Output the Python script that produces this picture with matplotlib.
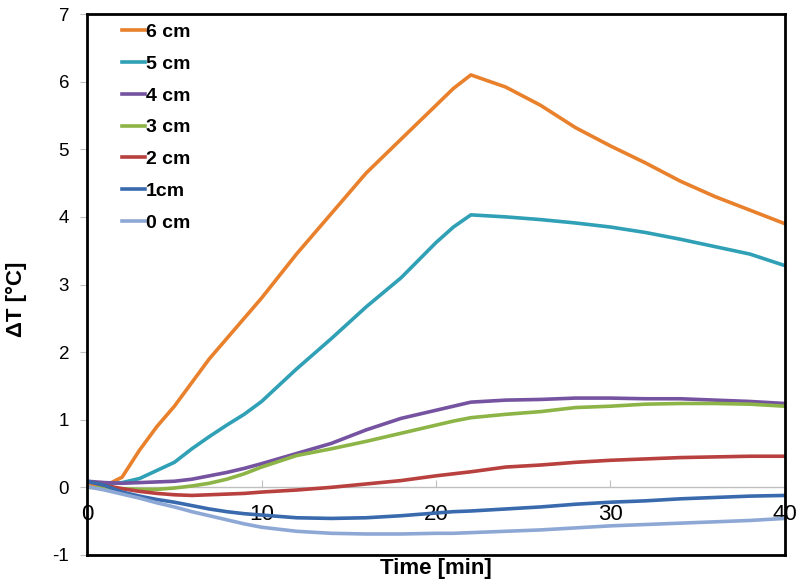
#!/usr/bin/env python3
"""Temperature rise vs time for different depths (0-6 cm)."""

import matplotlib.pyplot as plt

plt.rcParams['font.family'] = ['Liberation Sans', 'DejaVu Sans']
plt.rcParams['axes.unicode_minus'] = False

# sample times [min]
TIME = [0, 1, 2, 3, 4, 5, 6, 7, 8, 9, 10, 12, 14, 16, 18, 20, 21, 22,
        24, 26, 28, 30, 32, 34, 36, 38, 40]

# delta T [degC] per depth
DT_6CM = [0.05, 0.02, 0.15, 0.55, 0.9, 1.2, 1.55, 1.9, 2.2, 2.5, 2.8, 3.45,
          4.05, 4.65, 5.15, 5.65, 5.9, 6.1, 5.92, 5.65, 5.32, 5.05, 4.8,
          4.53, 4.3, 4.1, 3.9]
DT_5CM = [0.08, 0.05, 0.07, 0.13, 0.25, 0.37, 0.57, 0.75, 0.92, 1.08, 1.27,
          1.75, 2.2, 2.67, 3.1, 3.62, 3.85, 4.03, 4.0, 3.96, 3.91, 3.85,
          3.77, 3.67, 3.56, 3.45, 3.28]
DT_4CM = [0.09, 0.07, 0.06, 0.07, 0.08, 0.09, 0.12, 0.17, 0.22, 0.28, 0.35,
          0.5, 0.65, 0.85, 1.02, 1.14, 1.2, 1.26, 1.29, 1.3, 1.32, 1.32,
          1.31, 1.31, 1.29, 1.27, 1.24]
DT_3CM = [0.0, -0.01, -0.02, -0.03, -0.03, -0.01, 0.02, 0.06, 0.12, 0.2,
          0.3, 0.47, 0.57, 0.68, 0.8, 0.92, 0.98, 1.03, 1.08, 1.12, 1.18,
          1.2, 1.23, 1.24, 1.24, 1.23, 1.2]
DT_2CM = [0.09, 0.03, -0.02, -0.06, -0.09, -0.11, -0.12, -0.11, -0.1, -0.09,
          -0.07, -0.04, 0.0, 0.05, 0.1, 0.17, 0.2, 0.23, 0.3, 0.33, 0.37,
          0.4, 0.42, 0.44, 0.45, 0.46, 0.46]
DT_1CM = [0.09, 0.03, -0.07, -0.13, -0.18, -0.22, -0.27, -0.32, -0.36, -0.39,
          -0.41, -0.45, -0.46, -0.45, -0.42, -0.38, -0.36, -0.35, -0.32,
          -0.29, -0.25, -0.22, -0.2, -0.17, -0.15, -0.13, -0.12]
DT_0CM = [0.01, -0.04, -0.1, -0.16, -0.23, -0.29, -0.36, -0.42, -0.48, -0.54,
          -0.59, -0.65, -0.68, -0.69, -0.69, -0.68, -0.68, -0.67, -0.65,
          -0.63, -0.6, -0.57, -0.55, -0.53, -0.51, -0.49, -0.46]

SERIES = [
    ("6 cm", DT_6CM, "#E8802C"),
    ("5 cm", DT_5CM, "#2FA0B6"),
    ("4 cm", DT_4CM, "#7553A0"),
    ("3 cm", DT_3CM, "#8DB446"),
    ("2 cm", DT_2CM, "#B8403E"),
    ("1cm", DT_1CM, "#3A6AAE"),
    ("0 cm", DT_0CM, "#8EA8D6"),
]

XTICKS = [0, 10, 20, 30, 40]
YTICKS = [-1, 0, 1, 2, 3, 4, 5, 6, 7]


def main():
    fig = plt.figure(figsize=(8.0, 5.86), dpi=100)
    ax = fig.add_axes([0.109, 0.053, 0.872, 0.923])

    for label, vals, color in SERIES:
        ax.plot(TIME, vals, color=color, lw=2.6, label=label)

    ax.set_xlim(0, 40)
    ax.set_ylim(-1, 7)
    ax.set_xticks(XTICKS)
    ax.set_yticks(YTICKS)

    # x axis runs along the zero line, frame box around the plot
    ax.spines['bottom'].set_position(('data', 0))
    ax.spines['bottom'].set_color('#BFBFBF')
    ax.spines['bottom'].set_linewidth(1)
    ax.spines['bottom'].set_zorder(0)
    for side in ('top', 'left', 'right'):
        ax.spines[side].set_color('black')
        ax.spines[side].set_linewidth(2)
    ax.axhline(-1, color='black', lw=2, clip_on=False)

    ax.tick_params(axis='x', direction='in', length=5, color='#BFBFBF',
                   pad=12, labelsize=16)
    ax.tick_params(axis='y', direction='out', length=5, color='#BFBFBF',
                   pad=8, labelsize=13.5)

    ax.set_xlabel("Time [min]", fontsize=16, fontweight='bold')
    ax.xaxis.set_label_coords(0.5, -0.006)
    ax.set_ylabel("ΔT [°C]", fontsize=16, fontweight='bold')
    ax.yaxis.set_label_coords(-0.087, 0.473)

    ax.legend(loc='upper left', bbox_to_anchor=(0.039, 0.997), frameon=False,
              prop={'weight': 'bold', 'size': 14}, handlelength=1.15,
              handletextpad=0.05, labelspacing=0.73, borderaxespad=0)

    fig.savefig("out.png", dpi=100)


if __name__ == "__main__":
    main()
